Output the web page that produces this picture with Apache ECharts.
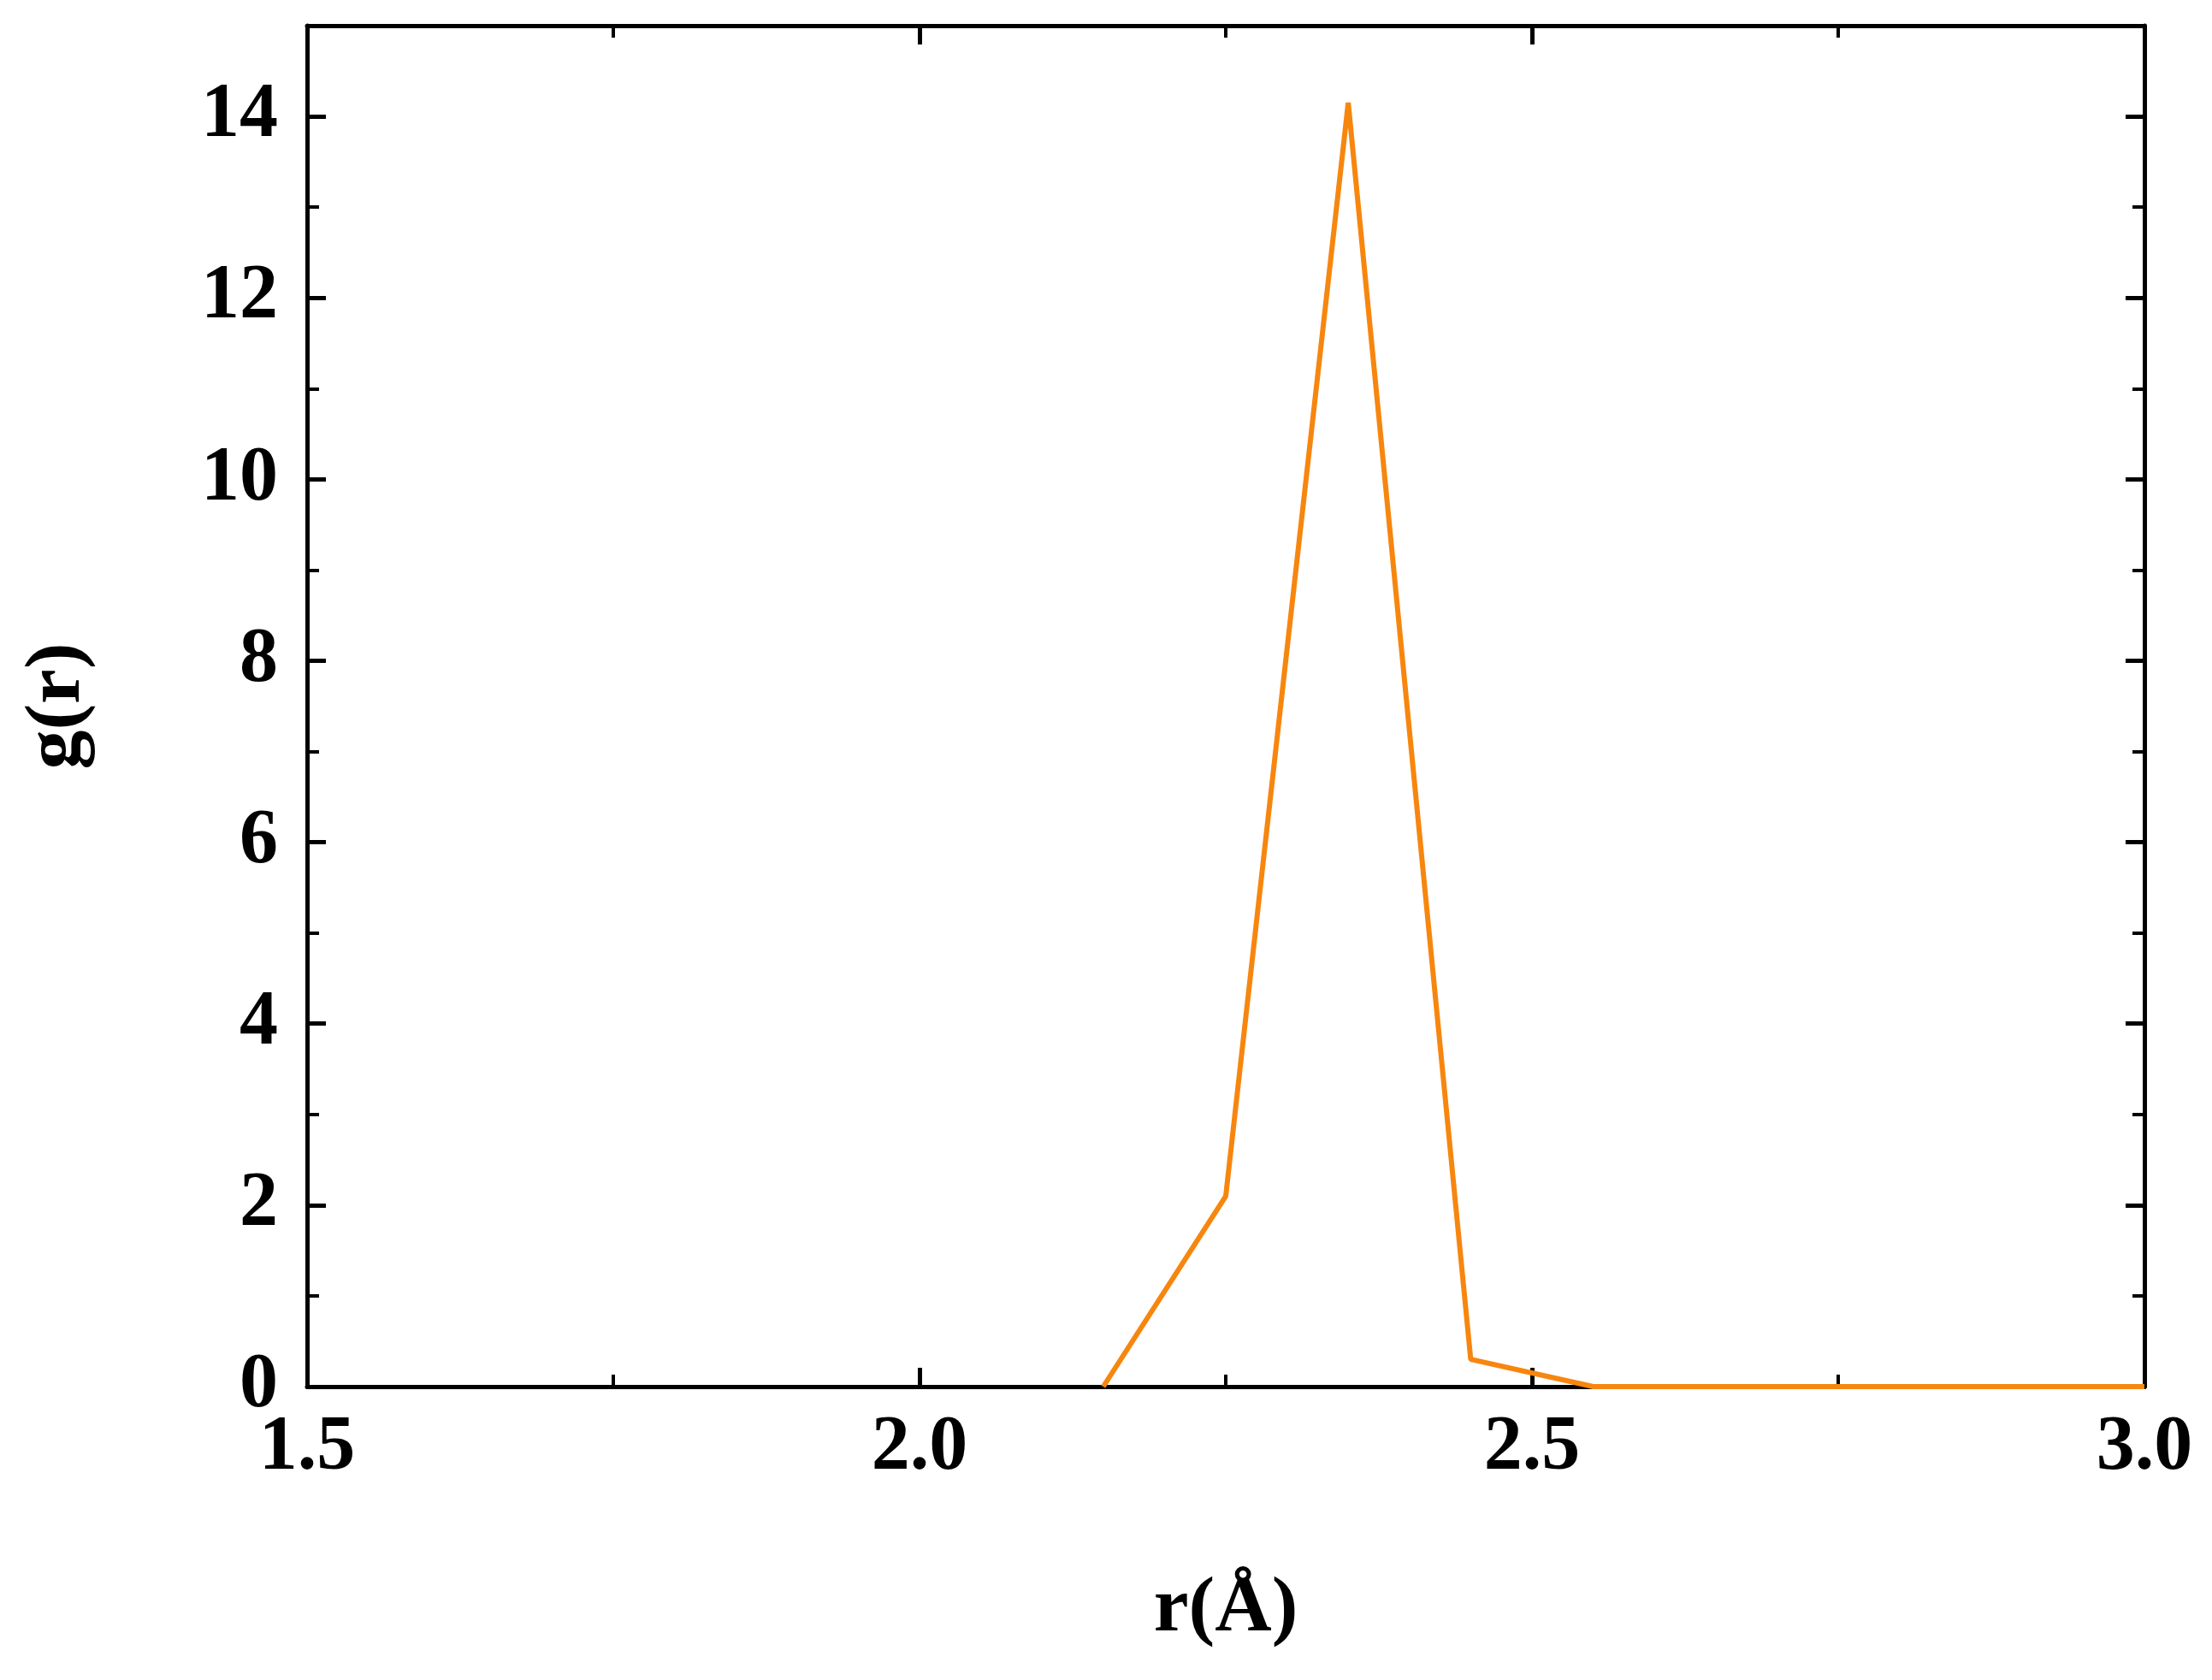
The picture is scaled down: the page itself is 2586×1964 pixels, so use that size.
<!DOCTYPE html>
<html><head><meta charset="utf-8">
<script src="https://cdn.jsdelivr.net/npm/echarts@6/dist/echarts.min.js"></script>
<style>html,body{margin:0;padding:0;background:#fff}#c{width:2586px;height:1964px}</style>
</head><body><div id="c"></div>
<script>
const rValues = [2.15, 2.25, 2.35, 2.45, 2.55, 2.65, 2.75, 2.85, 2.95, 3.0];
const gValues = [0, 2.1, 14.15, 0.3, 0, 0, 0, 0, 0, 0];
const xTitle = 'r(Å)';
const yTitle = 'g(r)';
const font = 'Liberation Serif';
const axisLine = {show:true, onZero:false, lineStyle:{color:'#000', width:5}};
function xa(show, pos){return {type:'value', position:pos, min:1.5, max:3.0, interval:0.5,
  axisLine, axisTick:{show:true, inside:true, length:22, lineStyle:{width:5,color:'#000'}},
  minorTick:{show:true, splitNumber:2, length:14, lineStyle:{width:4,color:'#000'}},
  splitLine:{show:false},
  axisLabel:{show, margin:28, fontFamily:font, fontWeight:'bold', fontSize:90, color:'#000', formatter:v=>v.toFixed(1)},
  name: show? xTitle:'', nameLocation:'middle', nameGap:215,
  nameTextStyle:{fontFamily:font, fontWeight:'bold', fontSize:92, color:'#000'}};}
function ya(show, pos){return {type:'value', position:pos, min:0, max:15, interval:2,
  axisLine, axisTick:{show:true, inside:true, length:22, lineStyle:{width:5,color:'#000'}},
  minorTick:{show:true, splitNumber:2, length:14, lineStyle:{width:4,color:'#000'}},
  splitLine:{show:false},
  axisLabel:{show, margin:34, fontFamily:font, fontWeight:'bold', fontSize:90, color:'#000', showMaxLabel:false},
  name: show? yTitle:'', nameLocation:'middle', nameGap:245,
  nameTextStyle:{fontFamily:font, fontWeight:'bold', fontSize:92, color:'#000'}};}
const chart = echarts.init(document.getElementById('c'));
chart.setOption({
  animation:false,
  grid:{left:359, right:2586-2507, top:30, bottom:1964-1621},
  xAxis:[xa(true,'bottom'), xa(false,'top')],
  yAxis:[ya(true,'left'), ya(false,'right')],
  series:[{type:'line', data: rValues.map((r,i)=>[r,gValues[i]]), symbol:'none',
    lineStyle:{color:'#F7860F', width:6}}]
});
</script></body></html>
